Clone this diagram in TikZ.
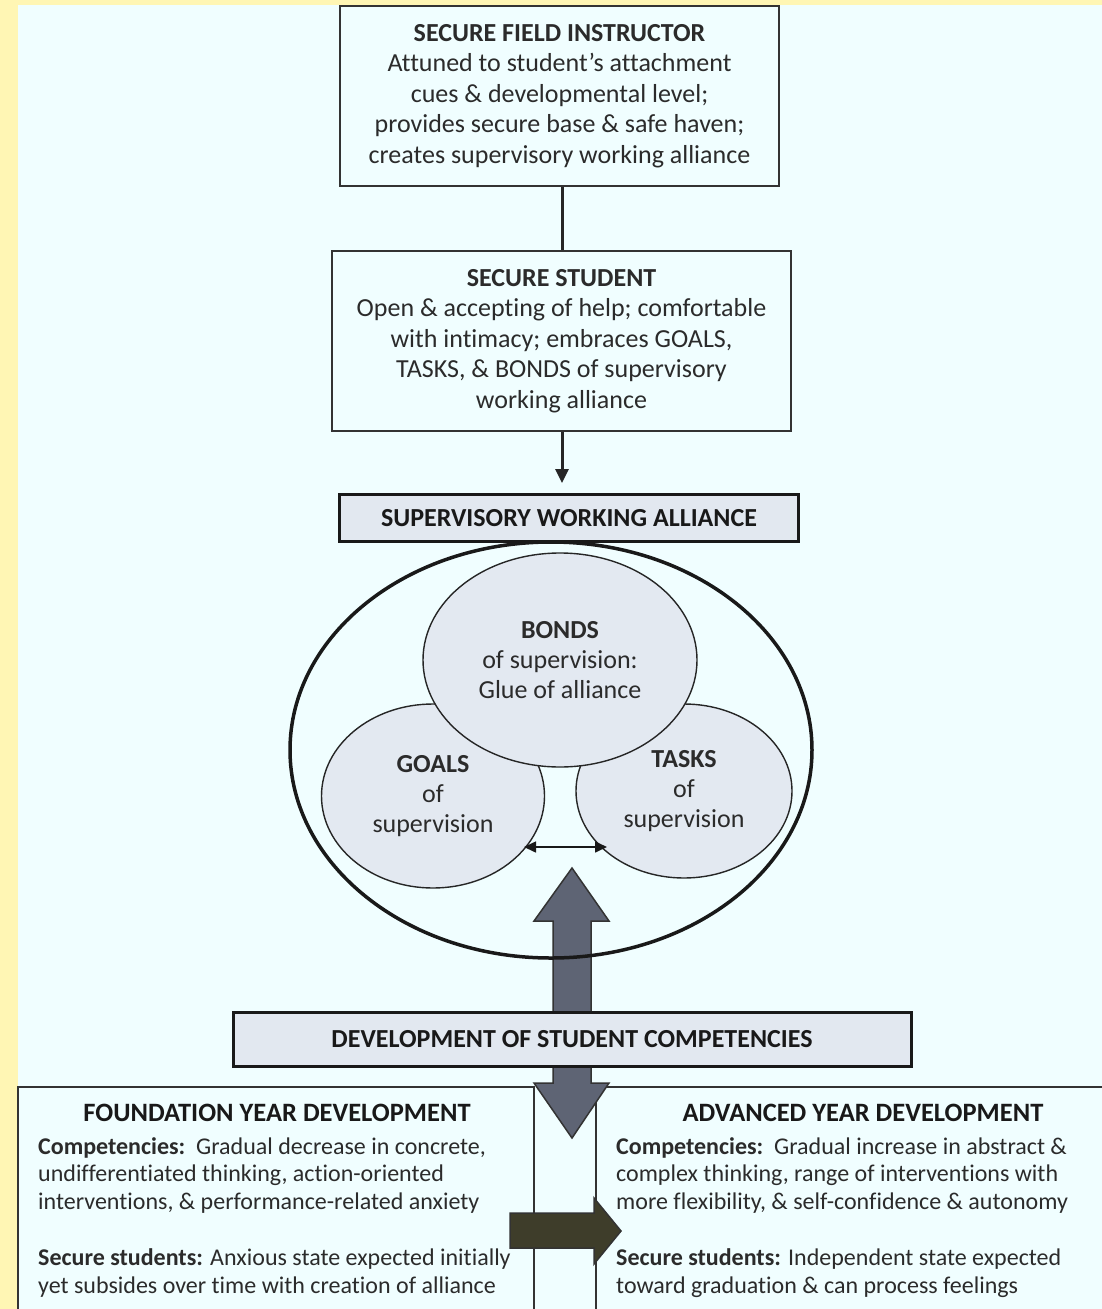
\documentclass[tikz,border=0pt]{standalone}
\usepackage{fontspec}
\setmainfont{Carlito}[Ligatures=NoCommon]
\usetikzlibrary{shapes.geometric,arrows.meta}
\definecolor{bgc}{HTML}{F0FEFF}
\definecolor{yel}{HTML}{FFF6B4}
\definecolor{boxfill}{HTML}{E2E8F0}
\definecolor{ellfill}{HTML}{E3E9F1}
\definecolor{txt}{HTML}{2B2B2B}
\definecolor{slate}{HTML}{5E6474}
\definecolor{olive}{HTML}{3E3D2A}
\begin{document}
\begin{tikzpicture}[x=1pt,y=-1pt,
  bigfont/.style={font=\fontsize{26}{30.4}\selectfont},
  smallfont/.style={font=\fontsize{24}{27.8}\selectfont},
  plainbox/.style={draw=black!80,line width=2pt,fill=bgc,inner sep=0pt,bigfont,text=txt,align=center},
  bandbox/.style={draw=black!90,line width=3pt,fill=boxfill,inner sep=0pt,bigfont,text=black!90,align=center},
  bubble/.style={ellipse,draw=black!85,line width=1.4pt,fill=ellfill,inner sep=0pt,bigfont,text=txt,align=center},
  blockarrow/.style={draw=black!80,line width=1.5pt},
  thinline/.style={draw=black!80,line width=1.5pt},
  bodytext/.style={smallfont,text=txt,align=left,inner sep=0pt},
  headtext/.style={font=\fontsize{26.5}{30}\selectfont,text=black!90,inner sep=0pt}
]
\useasboundingbox (0,0) rectangle (1102,1309);
% background
\fill[yel] (0,0) rectangle (1102,1309);
\fill[bgc] (18,5) rectangle (1102,1309);

% top boxes
\node[plainbox,minimum width=439pt,minimum height=180pt] (fi) at (559.5,96)
 {\textbf{SECURE FIELD INSTRUCTOR}\\Attuned to student’s attachment\\cues \& developmental level;\\provides secure base \& safe haven;\\creates supervisory working alliance};
\node[plainbox,minimum width=459pt,minimum height=180pt] (ss) at (561.5,341)
 {\textbf{SECURE STUDENT}\\Open \& accepting of help; comfortable\\with intimacy; embraces GOALS,\\TASKS, \& BONDS of supervisory\\working alliance};
\coordinate (cx) at (562,0);
\coordinate (swatip) at (562,483);
\draw[line width=3pt,black!85] (fi.south -| cx) -- (ss.north -| cx);
\draw[line width=3pt,black!85,-{Triangle[length=14pt,width=13pt]}] (ss.south -| cx) -- (swatip);

% up block arrow (behind ellipse outline)
\filldraw[blockarrow,fill=slate] (553,1013) -- (553,921) -- (534,921) -- (572,868) -- (609,921) -- (591,921) -- (591,1013) -- cycle;

% alliance
\node[ellipse,draw=black!90,line width=3.5pt,minimum width=522pt,minimum height=416pt,inner sep=0pt] (alliance) at (551,750) {};
\node[bandbox,minimum width=459pt,minimum height=47pt] (swa) at (569,518) {\textbf{SUPERVISORY WORKING ALLIANCE}};

\node[bubble,minimum width=223pt,minimum height=184pt] (goals) at (433,796) {\textbf{GOALS}\\of\\supervision};
\node[bubble,minimum width=216pt,minimum height=174pt] (tasks) at (684,791) {\textbf{TASKS}\\of\\supervision};
\node[bubble,minimum width=274pt,minimum height=214pt] (bonds) at (560,660) {\textbf{BONDS}\\of supervision:\\Glue of alliance};
\coordinate (ga) at (524,847);
\coordinate (ta) at (607,847);
\draw[line width=1.6pt,black!90,{Triangle[length=12pt,width=11pt]}-{Triangle[length=12pt,width=11pt]}] (ga) -- (ta);

% bottom boxes
\draw[thinline] (18,1320) -- (18,1087) -- (534,1087) -- (534,1320);
\draw[thinline] (596,1320) -- (596,1087) -- (1110,1087);

% down block arrow
\filldraw[blockarrow,fill=slate] (553,1060) -- (553,1083) -- (534,1083) -- (572,1138) -- (609,1083) -- (591,1083) -- (591,1060) -- cycle;
\node[bandbox,minimum width=678pt,minimum height=54pt] (dsc) at (572,1039) {\textbf{DEVELOPMENT OF STUDENT COMPETENCIES}};

% right block arrow
\filldraw[blockarrow,fill=olive] (510,1213) -- (594,1213) -- (594,1198) -- (621,1231) -- (594,1264) -- (594,1248) -- (510,1248) -- cycle;

% bottom texts
\node[headtext,anchor=base] (fh) at (277,1121) {\textbf{FOUNDATION YEAR DEVELOPMENT}};
\node[headtext,anchor=base] (ah) at (863,1121) {\textbf{ADVANCED YEAR DEVELOPMENT}};
\node[bodytext,anchor=north west] (ft) at (38,1137)
 {\textbf{Competencies:}\ \ Gradual decrease in concrete,\\undifferentiated thinking, action-oriented\\interventions, \& performance-related anxiety\\[27.8pt]\textbf{Secure students:} Anxious state expected initially\\yet subsides over time with creation of alliance};
\node[bodytext,anchor=north west] (at) at (616,1137)
 {\textbf{Competencies:}\ \ Gradual increase in abstract \&\\complex thinking, range of interventions with\\more flexibility, \& self-confidence \& autonomy\\[27.8pt]\textbf{Secure students:} Independent state expected\\toward graduation \& can process feelings};
\end{tikzpicture}
\end{document}
